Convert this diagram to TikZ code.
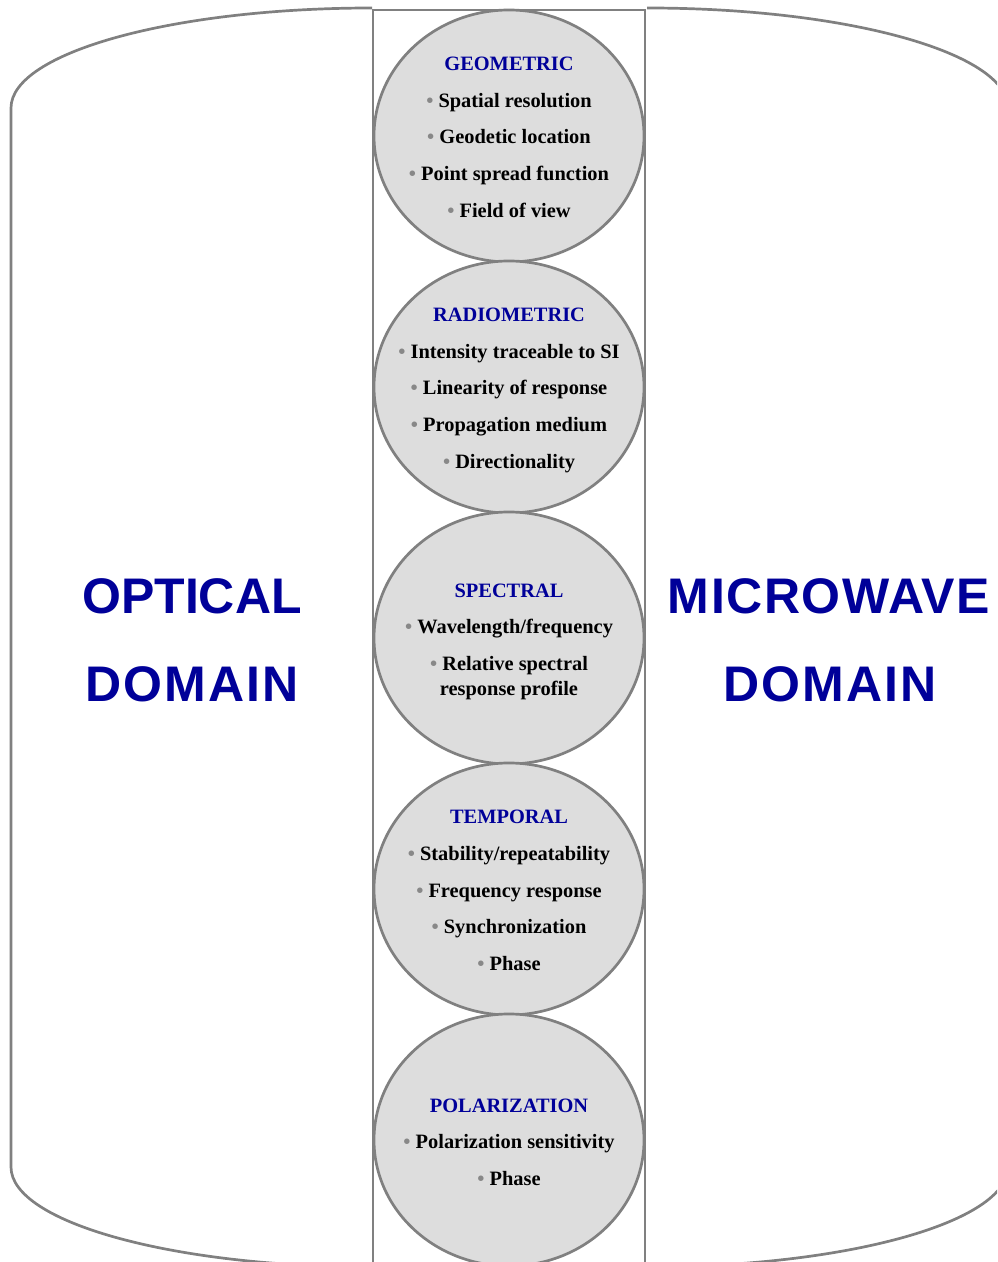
\documentclass[tikz,border=0pt]{standalone}
\usepackage{fontspec}
\setmainfont{Liberation Serif}
\newfontfamily\domfont{Liberation Sans}
\newfontfamily\domwide[LetterSpace=4]{Liberation Sans}
\newfontfamily\dommid[LetterSpace=3]{Liberation Sans}
\usetikzlibrary{shapes.geometric}
\definecolor{edgegray}{HTML}{808080}
\definecolor{fillgray}{HTML}{DDDDDD}
\definecolor{titleblue}{HTML}{000099}
\definecolor{bulletgray}{HTML}{888888}
\tikzset{
  outline/.style={draw=edgegray, line width=2.7pt},
  disc/.style={ellipse, draw=edgegray, fill=fillgray, line width=2.7pt,
    minimum width=270pt, minimum height=252pt, inner sep=0pt},
  ttl/.style={anchor=base, text=titleblue, inner sep=0pt,
    font=\fontsize{20.4}{24}\selectfont\bfseries},
  itm/.style={anchor=base, text=black, inner sep=0pt,
    font=\fontsize{20.4}{24}\selectfont\bfseries},
  dom/.style={anchor=base, text=titleblue, inner sep=0pt,
    font=\domfont\fontsize{50}{60}\selectfont\bfseries},
  domw/.style={dom, font=\domwide\fontsize{50}{60}\selectfont\bfseries},
  domm/.style={dom, font=\dommid\fontsize{50}{60}\selectfont\bfseries},
}
\newcommand{\bul}{{\color{bulletgray}\textbullet}\ }
\begin{document}
\begin{tikzpicture}[x=1pt,y=1pt]
\useasboundingbox (0,0) rectangle (997,1262);
\clip (0,0) rectangle (997,1262);
% outer domains
\draw[outline] (372,1254) arc[start angle=90, end angle=180, x radius=361, y radius=100]
  -- (11,95) arc[start angle=180, end angle=270, x radius=361, y radius=100];
\draw[outline] (647,1254) arc[start angle=90, end angle=0, x radius=361, y radius=100]
  -- (1008,95) arc[start angle=0, end angle=-90, x radius=361, y radius=100];
% central column
\draw[outline] (373,-10) -- (373,1252) -- (645,1252) -- (645,-10);
% discs
\node[disc] (c1) at (509,1126) {};
\node[disc] (c2) at (509,875) {};
\node[disc] (c3) at (509,624) {};
\node[disc] (c4) at (509,373) {};
\node[disc] (c5) at (509,122) {};
% disc 1
\node[ttl, yshift=65pt] (t1) at (c1) {GEOMETRIC};
\node[itm, yshift=28.5pt] (a1) at (c1) {\bul Spatial resolution};
\node[itm, yshift=-8pt] (a2) at (c1) {\bul Geodetic location};
\node[itm, yshift=-44.5pt] (a3) at (c1) {\bul Point spread function};
\node[itm, yshift=-81.5pt] (a4) at (c1) {\bul Field of view};
% disc 2
\node[ttl, yshift=65pt] (t2) at (c2) {RADIOMETRIC};
\node[itm, yshift=28.5pt] (b1) at (c2) {\bul Intensity traceable to SI};
\node[itm, yshift=-8pt] (b2) at (c2) {\bul Linearity of response};
\node[itm, yshift=-44.5pt] (b3) at (c2) {\bul Propagation medium};
\node[itm, yshift=-81.5pt] (b4) at (c2) {\bul Directionality};
% disc 3
\node[ttl, yshift=40pt] (t3) at (c3) {SPECTRAL};
\node[itm, yshift=4pt] (d1) at (c3) {\bul Wavelength/frequency};
\node[itm, yshift=-33pt] (d2) at (c3) {\bul Relative spectral};
\node[itm, yshift=-58pt] (d3) at (c3) {response profile};
% disc 4
\node[ttl, yshift=65pt] (t4) at (c4) {TEMPORAL};
\node[itm, yshift=28pt] (e1) at (c4) {\bul Stability/repeatability};
\node[itm, yshift=-9pt] (e2) at (c4) {\bul Frequency response};
\node[itm, yshift=-45pt] (e3) at (c4) {\bul Synchronization};
\node[itm, yshift=-82pt] (e4) at (c4) {\bul Phase};
% disc 5
\node[ttl, yshift=27pt] (t5) at (c5) {POLARIZATION};
\node[itm, yshift=-9pt] (f1) at (c5) {\bul Polarization sensitivity};
\node[itm, yshift=-46pt] (f2) at (c5) {\bul Phase};
% domain labels
\node[dom] (o1) at (192,648) {OPTICAL};
\node[domw] (o2) at (192,560) {DOMAIN};
\node[domm] (m1) at (829,648) {MICROWAVE};
\node[domw] (m2) at (830,560) {DOMAIN};
\end{tikzpicture}
\end{document}
